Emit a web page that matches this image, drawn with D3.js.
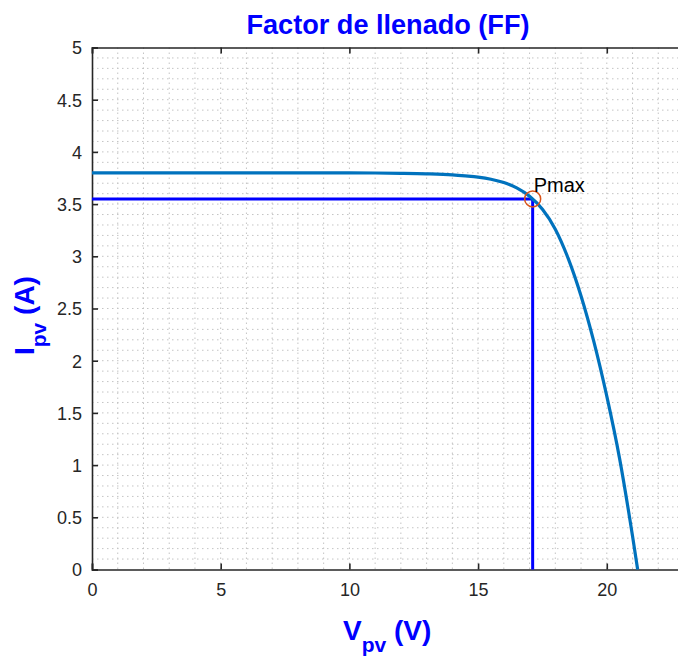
<!DOCTYPE html>
<html lang="es">
<head>
<meta charset="utf-8">
<script src="https://d3js.org/d3.v7.min.js"></script>
<style>
  body { margin: 0; background: #fff; }
  text { font-family: "Liberation Sans", Arial, Helvetica, sans-serif; }
</style>
<title>Factor de llenado</title>
</head>
<body>
<div id="chart"></div>
<script>
// curva I-V del panel
var vpv = [0, 2, 4, 6, 8, 10, 11, 12, 13, 14, 14.5, 15, 15.5, 16, 16.5, 17, 17.5, 18, 18.5, 19, 19.5, 20, 20.5, 21, 21.2];
var ipv = [3.8, 3.8, 3.8, 3.8, 3.8, 3.799, 3.798, 3.795, 3.79, 3.78, 3.77, 3.758, 3.738, 3.706, 3.655, 3.575, 3.45, 3.26, 2.98, 2.62, 2.18, 1.66, 1.06, 0.32, 0];
var pmaxV = [17.12];
var pmaxI = [3.55];
var xTicks = [0, 5, 10, 15, 20];
var yTicks = [0, 0.5, 1, 1.5, 2, 2.5, 3, 3.5, 4, 4.5, 5];
var xDomain = [0, 23];
var yDomain = [0, 5];

var W = 678, H = 659;
var margin = {top: 47.5, right: -6, bottom: 89.5, left: 92},
    width = W - margin.left - margin.right,
    height = H - margin.top - margin.bottom;

var svg = d3.select("#chart").append("svg")
    .attr("width", W)
    .attr("height", H);

var g = svg.append("g")
    .attr("transform", "translate(" + margin.left + "," + margin.top + ")");

var x = d3.scaleLinear().domain(xDomain).range([0, width]);
var y = d3.scaleLinear().domain(yDomain).range([height, 0]);

// rejilla punteada
g.append("g").selectAll("line")
    .data(d3.range(1, 23))
    .enter().append("line")
        .attr("x1", d => x(d)).attr("x2", d => x(d))
        .attr("y1", 0).attr("y2", height)
        .attr("stroke", "#c4c4c4")
        .attr("stroke-width", 1)
        .attr("stroke-dasharray", "1.5,3.5");

g.append("g").selectAll("line")
    .data(d3.range(1, 50).map(d => d / 10))
    .enter().append("line")
        .attr("x1", 0).attr("x2", width)
        .attr("y1", d => y(d)).attr("y2", d => y(d))
        .attr("stroke", "#c4c4c4")
        .attr("stroke-width", 1)
        .attr("stroke-dasharray", "1.5,3.5");

// ejes
var axColor = "#262626";
var xAx = g.append("g")
    .attr("transform", "translate(0," + height + ")")
    .call(d3.axisBottom(x).tickValues(xTicks).tickSize(-6).tickPadding(14).tickFormat(d3.format("")));
var xTop = g.append("g")
    .call(d3.axisTop(x).tickValues(xTicks).tickSize(-6).tickFormat(""));
var yAx = g.append("g")
    .call(d3.axisLeft(y).tickValues(yTicks).tickSize(-6).tickPadding(10).tickFormat(d3.format("")));

[xAx, xTop, yAx].forEach(function(a) {
    a.select(".domain").attr("stroke", axColor).attr("stroke-width", 1.6);
    a.selectAll(".tick line").attr("stroke", axColor).attr("stroke-width", 1.6);
    a.selectAll(".tick text")
        .attr("fill", axColor)
        .style("font-size", "18px")
        .style("font-family", "'Liberation Sans', Arial, sans-serif");
});
yAx.selectAll(".tick text").attr("dy", "0.35em");

// lineas de Pmax
g.append("line")
    .attr("x1", x(0)).attr("x2", x(pmaxV[0]))
    .attr("y1", y(pmaxI[0])).attr("y2", y(pmaxI[0]))
    .attr("stroke", "#0000ff").attr("stroke-width", 3);
g.append("line")
    .attr("x1", x(pmaxV[0])).attr("x2", x(pmaxV[0]))
    .attr("y1", y(pmaxI[0])).attr("y2", y(0))
    .attr("stroke", "#0000ff").attr("stroke-width", 3);

// curva
var data = vpv.map((v, i) => ({v: v, i: ipv[i]}));
g.append("path")
    .datum(data)
    .attr("fill", "none")
    .attr("stroke", "#0072bd")
    .attr("stroke-width", 3.2)
    .attr("d", d3.line().x(d => x(d.v)).y(d => y(d.i)).curve(d3.curveMonotoneX));

// marcador
g.append("circle")
    .attr("cx", x(pmaxV[0])).attr("cy", y(pmaxI[0]))
    .attr("r", 8)
    .attr("fill", "none")
    .attr("stroke", "#d95319")
    .attr("stroke-width", 1.5);
g.append("text")
    .attr("x", x(pmaxV[0]) + 1).attr("y", y(pmaxI[0]) - 7)
    .attr("fill", "#000")
    .style("font-size", "20px")
    .text("Pmax");

// titulo
svg.append("text")
    .attr("x", 388).attr("y", 34)
    .attr("text-anchor", "middle")
    .attr("fill", "#0000ff")
    .attr("textLength", 283).attr("lengthAdjust", "spacingAndGlyphs")
    .style("font-size", "28px").style("font-weight", "bold")
    .text("Factor de llenado (FF)");

// etiqueta x
var xl = svg.append("text")
    .attr("x", 343).attr("y", 640)
    .attr("fill", "#0000ff")
    .style("font-size", "28px").style("font-weight", "bold");
xl.append("tspan").text("V");
xl.append("tspan").attr("dy", 12).style("font-size", "21px").text("pv");
xl.append("tspan").attr("dy", -12).text(" (V)");

// etiqueta y
var yl = svg.append("text")
    .attr("transform", "translate(34,355) rotate(-90)")
    .attr("fill", "#0000ff")
    .style("font-size", "28px").style("font-weight", "bold");
yl.append("tspan").text("I");
yl.append("tspan").attr("dy", 12).style("font-size", "21px").text("pv");
yl.append("tspan").attr("dy", -12).text(" (A)");
</script>
</body>
</html>
